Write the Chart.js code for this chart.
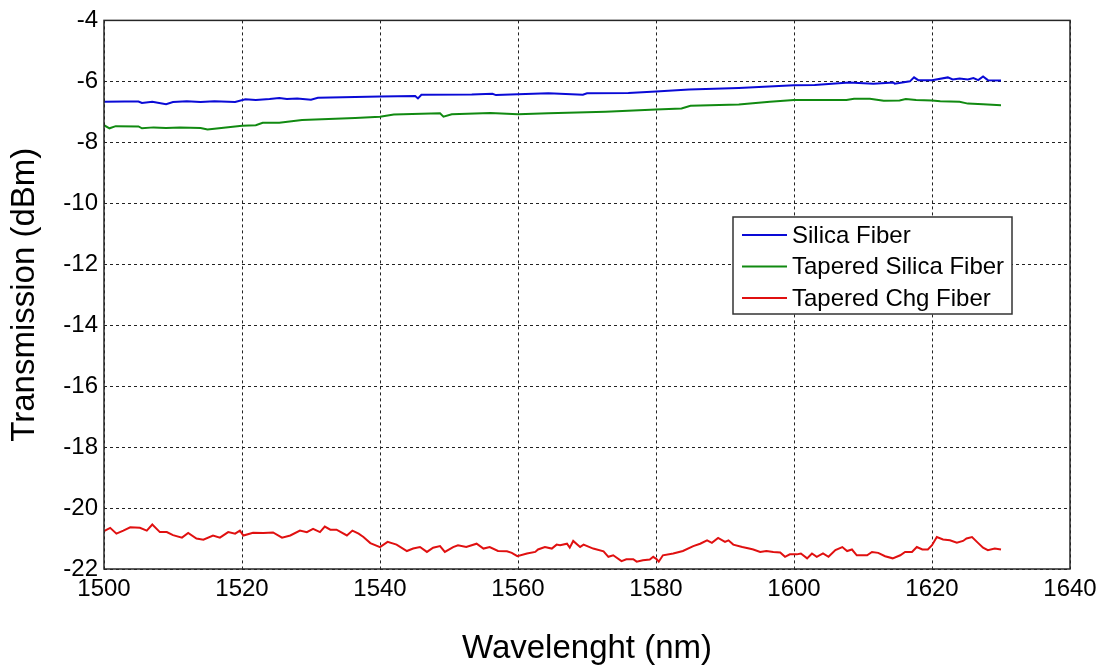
<!DOCTYPE html>
<html>
<head>
<meta charset="utf-8">
<script src="https://cdn.jsdelivr.net/npm/chart.js@4.4.0/dist/chart.umd.min.js"></script>
<style>
  html, body { margin: 0; padding: 0; background: #fff; }
  canvas { display: block; }
</style>
</head>
<body>
<canvas id="chart" width="1104" height="668"></canvas>
<script>
// values
let xTicks = [1500, 1520, 1540, 1560, 1580, 1600, 1620, 1640];
let yTicks = [-22, -20, -18, -16, -14, -12, -10, -8, -6, -4];

let blueWl = [1500,1503,1505,1505.5,1507,1509,1510,1512,1514,1516,
  1519,1520.5,1522,1524,1525.4,1526.5,1528,1530,1531,1536.4,
  1540,1545.1,1545.5,1546,1553.3,1556.3,1556.8,1560,1564.4,1569.4,
  1570,1576,1580,1584.8,1592,1600,1603,1608,1611.5,1614.4,
  1614.6,1616.8,1617.4,1618,1620,1622.3,1623,1624,1625.2,1626,
  1626.7,1627.4,1628.1,1630];
let blueDbm = [-6.67,-6.66,-6.66,-6.71,-6.67,-6.75,-6.68,-6.65,-6.68,-6.65,
  -6.68,-6.59,-6.61,-6.58,-6.55,-6.58,-6.56,-6.6,-6.54,-6.51,
  -6.5,-6.48,-6.56,-6.44,-6.43,-6.41,-6.45,-6.42,-6.39,-6.44,
  -6.39,-6.38,-6.33,-6.27,-6.22,-6.13,-6.12,-6.04,-6.08,-6.04,
  -6.08,-6.0,-5.87,-5.96,-5.96,-5.87,-5.94,-5.91,-5.94,-5.89,
  -5.96,-5.84,-5.96,-5.97];

let greenWl = [1500,1500.8,1501.7,1505,1505.5,1507.2,1509,1511,1514,1515,
  1517,1520,1522,1523,1525.4,1528.7,1536.4,1540,1542,1548.7,
  1549.2,1550.4,1556,1560,1564.4,1572.7,1580,1583.7,1585,1592,
  1596.5,1600,1607.6,1608.7,1611,1613,1615.3,1616.2,1617.7,1620,
  1621.2,1624,1625.2,1627.4,1630];
let greenDbm = [-7.44,-7.54,-7.47,-7.48,-7.54,-7.51,-7.53,-7.51,-7.53,-7.58,
  -7.53,-7.46,-7.44,-7.36,-7.36,-7.27,-7.2,-7.16,-7.09,-7.05,
  -7.16,-7.08,-7.04,-7.08,-7.05,-7.0,-6.92,-6.89,-6.8,-6.76,
  -6.67,-6.61,-6.61,-6.57,-6.57,-6.64,-6.63,-6.58,-6.61,-6.63,
  -6.65,-6.67,-6.73,-6.75,-6.78];

let redWl = [1500,1500.9,1501.8,1502.8,1503.8,1505.2,1506.2,1507,1508.1,1509.1,
  1510,1511.3,1512.2,1513.4,1514.4,1515.8,1516.8,1518,1519,1519.7,
  1520.2,1521.6,1523.1,1524.5,1525.8,1527,1528.4,1529.4,1530.3,1531.3,
  1532,1532.8,1533.7,1535.2,1536,1536.9,1537.6,1538.6,1540,1541.1,
  1542.4,1543.9,1544.8,1545.8,1546.8,1547.7,1548.7,1549.4,1550.6,1551.3,
  1552.5,1554,1555,1555.9,1557.1,1558.4,1559.1,1559.9,1561.3,1562.5,
  1562.9,1563.9,1564.9,1565.6,1566.1,1567.1,1567.5,1568,1569,1569.5,
  1570.9,1572.4,1573.1,1573.8,1575,1575.7,1576.7,1577.2,1578.1,1579.1,
  1579.6,1580.1,1580.4,1581,1582.5,1583.9,1585.4,1586.4,1587.4,1588.1,
  1589,1590,1590.5,1591.2,1592.5,1593.5,1594.1,1595.1,1596,1597,
  1598,1598.7,1599.4,1600.4,1601,1601.9,1602.6,1603.3,1604.2,1605,
  1606,1607,1607.7,1608.4,1609.1,1610.6,1611.3,1612.2,1613.2,1614.3,
  1615.4,1616.1,1617.1,1617.8,1618.6,1619.4,1620,1620.7,1621.6,1622.6,
  1623.6,1624.5,1625,1625.8,1626.7,1627.4,1628.1,1629.1,1630];
let redDbm = [-20.76,-20.65,-20.84,-20.74,-20.63,-20.65,-20.74,-20.54,-20.79,-20.79,
  -20.89,-20.97,-20.82,-21.0,-21.04,-20.9,-20.97,-20.79,-20.84,-20.74,
  -20.9,-20.81,-20.82,-20.8,-20.97,-20.9,-20.74,-20.79,-20.68,-20.79,
  -20.61,-20.71,-20.71,-20.9,-20.74,-20.84,-20.95,-21.15,-21.28,-21.11,
  -21.2,-21.41,-21.33,-21.28,-21.44,-21.3,-21.25,-21.44,-21.28,-21.22,
  -21.28,-21.17,-21.33,-21.28,-21.41,-21.42,-21.47,-21.58,-21.49,-21.44,
  -21.36,-21.28,-21.33,-21.2,-21.22,-21.17,-21.3,-21.08,-21.28,-21.2,
  -21.33,-21.42,-21.6,-21.55,-21.74,-21.68,-21.68,-21.76,-21.71,-21.69,
  -21.6,-21.68,-21.76,-21.55,-21.49,-21.41,-21.25,-21.17,-21.06,-21.14,
  -20.98,-21.11,-21.06,-21.2,-21.28,-21.33,-21.36,-21.44,-21.41,-21.44,
  -21.46,-21.6,-21.52,-21.52,-21.49,-21.65,-21.49,-21.6,-21.49,-21.6,
  -21.38,-21.28,-21.41,-21.36,-21.55,-21.55,-21.44,-21.47,-21.58,-21.65,
  -21.55,-21.44,-21.44,-21.28,-21.36,-21.36,-21.22,-20.95,-21.03,-21.06,
  -21.14,-21.08,-21.0,-20.95,-21.15,-21.3,-21.38,-21.33,-21.36];

let font = 'Liberation Sans, Arial, sans-serif';

function toPoints(xs, ys) {
  return xs.map((x, i) => ({x: x, y: ys[i]}));
}

function lineSet(label, xs, ys, color) {
  return {
    label: label,
    data: toPoints(xs, ys),
    borderColor: color,
    backgroundColor: color,
    borderWidth: 2,
    pointRadius: 0,
    tension: 0,
    fill: false
  };
}

// full plot box plus the matlab-style legend inside the axes
let boxAndLegend = {
  id: 'boxAndLegend',
  afterDraw(chart) {
    let ctx = chart.ctx;
    let a = chart.chartArea;
    ctx.save();
    ctx.strokeStyle = '#262626';
    ctx.lineWidth = 1.5;
    ctx.setLineDash([]);
    ctx.strokeRect(a.left, a.top, a.right - a.left, a.bottom - a.top);

    let lx = 733, ly = 217, lw = 279, lh = 97;
    ctx.fillStyle = '#fff';
    ctx.fillRect(lx, ly, lw, lh);
    ctx.strokeStyle = '#333';
    ctx.lineWidth = 1.5;
    ctx.strokeRect(lx, ly, lw, lh);
    ctx.font = '24px ' + font;
    ctx.textBaseline = 'middle';
    chart.data.datasets.forEach((ds, i) => {
      let cy = ly + 18 + i * 31.5;
      ctx.strokeStyle = ds.borderColor;
      ctx.lineWidth = 2;
      ctx.beginPath();
      ctx.moveTo(742, cy);
      ctx.lineTo(787, cy);
      ctx.stroke();
      ctx.fillStyle = '#000';
      ctx.fillText(ds.label, 792, cy + 1);
    });
    ctx.restore();
  }
};

new Chart('chart', {
  type: 'line',
  data: {
    datasets: [
      lineSet('Silica Fiber', blueWl, blueDbm, '#0a0ad6'),
      lineSet('Tapered Silica Fiber', greenWl, greenDbm, '#118a11'),
      lineSet('Tapered Chg Fiber', redWl, redDbm, '#e01010')
    ]
  },
  options: {
    responsive: false,
    animation: false,
    layout: { padding: { top: 15, right: 34, left: 0, bottom: 0 } },
    scales: {
      x: {
        type: 'linear',
        min: 1500,
        max: 1640,
        afterBuildTicks: s => { s.ticks = xTicks.map(v => ({value: v})); },
        afterFit: s => { s.height = 99; },
        ticks: {
          color: '#000',
          font: {family: font, size: 24},
          padding: 6,
          autoSkip: false,
          maxRotation: 0,
          callback: v => String(v)
        },
        grid: { color: '#222', lineWidth: 1, drawTicks: false },
        border: { display: false, dash: [3, 3] },
        title: {
          display: true,
          text: 'Wavelenght (nm)',
          color: '#000',
          font: {family: font, size: 33, lineHeight: 1},
          padding: {top: 0, bottom: 3}
        }
      },
      y: {
        min: -22,
        max: -4,
        afterBuildTicks: s => { s.ticks = yTicks.map(v => ({value: v})); },
        afterFit: s => { s.width = 104; },
        ticks: {
          color: '#000',
          font: {family: font, size: 24},
          padding: 6,
          callback: v => String(v)
        },
        grid: { color: '#222', lineWidth: 1, drawTicks: false },
        border: { display: false, dash: [3, 3] },
        title: {
          display: true,
          text: 'Transmission (dBm)',
          color: '#000',
          font: {family: font, size: 33, lineHeight: 1},
          padding: {top: 8, bottom: 0}
        }
      }
    },
    plugins: {
      legend: { display: false },
      tooltip: { enabled: false }
    }
  },
  plugins: [boxAndLegend]
});
</script>
</body>
</html>
